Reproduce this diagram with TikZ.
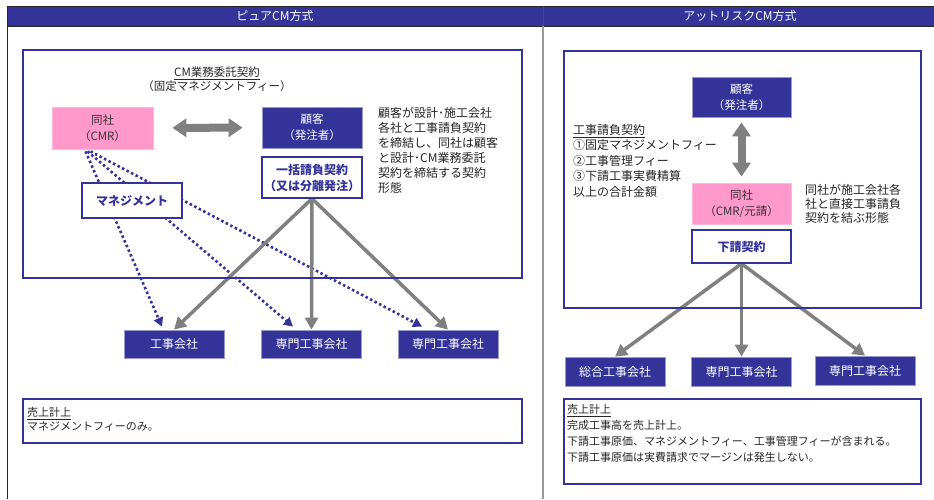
\documentclass[tikz,border=0pt]{standalone}
\usepackage{fontspec}
\setmainfont{Noto Sans CJK JP}
\usetikzlibrary{arrows.meta,backgrounds}
\definecolor{navy}{HTML}{333399}
\definecolor{pinkc}{HTML}{FF99CC}
\definecolor{arrgray}{HTML}{808080}
\definecolor{lav}{HTML}{9999CC}
\begin{document}
\begin{tikzpicture}[x=1pt,y=-1pt,
  navybox/.style={fill=navy, draw=lav, line width=0.8pt, text=white, inner sep=0pt, align=center, font=\fontsize{11.5}{16}\selectfont},
  pinkbox/.style={fill=pinkc, draw=pinkc!70!white, line width=0.8pt, text=black!80, inner sep=0pt, align=center, font=\fontsize{11.5}{16}\selectfont},
  whitebox/.style={fill=white, draw=navy, line width=1.3pt, text=navy, inner sep=0pt, align=center, font=\fontsize{12}{16}\selectfont\bfseries},
  compbox/.style={navybox, minimum width=100pt, minimum height=28pt, font=\fontsize{12}{14}\selectfont},
  framebox/.style={draw=navy, line width=1.8pt},
  grayarrow/.style={draw=arrgray, line width=3.5pt, -{Triangle[length=12pt,width=13pt]}},
  dotarrow/.style={draw=navy, line width=2.6pt, dash pattern=on 2.5pt off 2.6pt, -{Triangle[length=9pt,width=9.5pt]}},
  fatarrow/.style={draw=arrgray, line width=8pt, {Triangle[length=14pt,width=18pt]}-{Triangle[length=14pt,width=18pt]}},
  desc/.style={anchor=north west, inner sep=0pt, align=left, text=black!85},
]
\useasboundingbox (0,0) rectangle (934,499);

% ---------- outer frame and header ----------
\fill[navy] (7,6) rectangle (934,26);
\draw[black!85, line width=1pt] (934,6) -- (7,6) -- (7,499);
\draw[black!85, line width=1pt] (7,26) -- (934,26);
\draw[black!70, line width=1pt] (543,6) -- (543,26);
\draw[arrgray!80, line width=1.2pt] (543,26) -- (543,499);
\node[text=white, font=\fontsize{12}{14}\selectfont] (hl) at (275,16) {ピュアCM方式};
\node[text=white, font=\fontsize{12}{14}\selectfont] (hr) at (740,16) {アットリスクCM方式};

% ---------- frames ----------
\draw[framebox] (23,50) rectangle (522,278);
\draw[framebox] (564,51) rectangle (921,308);
\draw[framebox] (23,399) rectangle (522,443);
\draw[framebox] (564,399) rectangle (921,484);

% ---------- left panel ----------
\node[anchor=north, inner sep=0pt, align=center, text=black!85, font=\fontsize{11.5}{13.5}\selectfont] (title) at (217,67)
  {\underline{CM業務委託契約}\\（固定マネジメントフィー）};
\node[pinkbox, minimum width=101pt, minimum height=42pt] (cmr) at (102.5,128) {同社\\（CMR）};
\node[navybox, minimum width=100pt, minimum height=41pt] (client) at (312,127.5) {顧客\\（発注者）};
\node[whitebox, minimum width=100pt, minimum height=41pt] (lump) at (312,177.5) {一括請負契約\\（又は分離発注）};
\node[desc, font=\fontsize{12}{15}\selectfont] (ldesc) at (378,107)
  {顧客が設計･施工会社\\各社と工事請負契約\\を締結し、同社は顧客\\と設計･CM業務委託\\契約を締結する契約\\形態};
\node[compbox] (c1) at (174,344) {工事会社};
\node[compbox] (c2) at (311.5,344) {専門工事会社};
\node[compbox] (c3) at (448,344) {専門工事会社};

% ---------- right panel ----------
\node[navybox, minimum width=99pt, minimum height=40pt] (client2) at (741.5,97) {顧客\\（発注者）};
\node[pinkbox, minimum width=99pt, minimum height=41pt] (cmr2) at (741.5,203.5) {同社\\（CMR/元請）};
\node[whitebox, minimum width=99pt, minimum height=33pt] (sub) at (741.5,246.5) {下請契約};
\node[desc, font=\fontsize{12}{15.5}\selectfont] (rdesc1) at (573,124)
  {\underline{工事請負契約}\\①固定マネジメントフィー\\②工事管理フィー\\③下請工事実費精算\\以上の合計金額};
\node[desc, font=\fontsize{12}{14}\selectfont] (rdesc2) at (805,184)
  {同社が施工会社各\\社と直接工事請負\\契約を結ぶ形態};
\node[compbox, minimum height=29pt] (c4) at (615,371.5) {総合工事会社};
\node[compbox, minimum height=29pt] (c5) at (741.5,371.5) {専門工事会社};
\node[compbox, minimum height=29pt] (c6) at (865,370.5) {専門工事会社};

% ---------- sales boxes ----------
\node[desc, font=\fontsize{11}{14}\selectfont] (lsales) at (27,407.5)
  {\underline{売上計上}\\マネジメントフィーのみ。};
\node[desc, font=\fontsize{11}{16}\selectfont] (rsales) at (567,404)
  {\underline{売上計上}\\完成工事高を売上計上。\\下請工事原価、マネジメントフィー、工事管理フィーが含まれる。\\下請工事原価は実費請求でマージンは発生しない。};

% ---------- connectors ----------
\begin{scope}[on background layer]
\fill[white] (0,0) rectangle (934,499);
\draw[dotarrow] ([xshift=-17pt,yshift=-2pt]cmr.south) -- ([xshift=-12pt,yshift=3pt]c1.north);
\draw[dotarrow] ([xshift=-15pt,yshift=-2pt]cmr.south) -- ([xshift=-18.5pt,yshift=3pt]c2.north);
\draw[dotarrow] ([xshift=-12pt,yshift=-2pt]cmr.south) -- ([xshift=-26pt,yshift=3pt]c3.north);
\draw[grayarrow] (lump.south) -- (c1.north);
\draw[grayarrow] (lump.south) -- (c2.north);
\draw[grayarrow] (lump.south) -- (c3.north);
\draw[grayarrow] (sub.south) -- (c4.north);
\draw[grayarrow] (sub.south) -- (c5.north);
\draw[grayarrow] (sub.south) -- (c6.north);
\end{scope}
\draw[fatarrow, shorten <=19pt, shorten >=19pt] (cmr) -- (client);
\draw[fatarrow, shorten <=5pt, shorten >=6pt] (client2) -- (cmr2);

% management box over the dotted lines
\node[whitebox, minimum width=100pt, minimum height=35pt] (mgmt) at (132,200.5) {マネジメント};
\end{tikzpicture}
\end{document}
